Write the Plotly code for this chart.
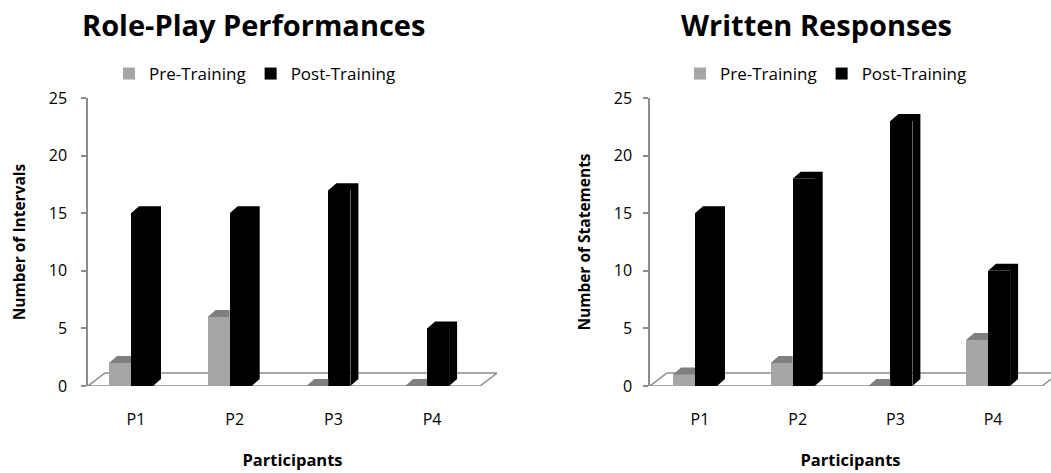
import plotly.graph_objects as go

# ---------------- data ----------------
categories = ["P1", "P2", "P3", "P4"]
series_names = ["Pre-Training", "Post-Training"]
roleplay_pre = [2, 6, 0, 0]
roleplay_post = [15, 15, 17, 5]
written_pre = [1, 2, 0, 4]
written_post = [15, 18, 23, 10]
y_ticks = [0, 5, 10, 15, 20, 25]
titles = ["Role-Play Performances", "Written Responses"]
y_titles = ["Number of Intervals", "Number of Statements"]
x_title = "Participants"

# ---------------- styling / geometry ----------------
W, H = 1051, 473
FONT = "Open Sans"
PRE_FRONT, PRE_TOP = "#a6a6a6", "#7f7f7f"
POST_FRONT, POST_TOP = "#000000", "#000000"
AXIS_GRAY = "#8c8c8c"
Y_TOP_PX, Y_BOT_PX = 98, 386
PX_PER_UNIT_Y = (Y_BOT_PX - Y_TOP_PX) / 25.0

panels = [
    dict(dom=(88, 497), c0=136, s=98.7, floor_end=480, ystand=11, title_x=253, leg_x=255,
         pre=roleplay_pre, post=roleplay_post, legend="legend"),
    dict(dom=(650, 1059), c0=700, s=97.7, floor_end=1042, ystand=8, title_x=816, leg_x=826,
         pre=written_pre, post=written_post, legend="legend2"),
]

fig = go.Figure()
shapes = []
annotations = []
idx = list(range(len(categories)))

for k, p in enumerate(panels):
    s = p["s"]
    c0 = p["c0"]
    d0, d1 = p["dom"]
    xa = "x" if k == 0 else "x2"
    ya = "y" if k == 0 else "y2"
    bw = 22 / s
    pre_off, post_off = -27 / s, -5 / s
    dx, dy = 8 / s, 7 / PX_PER_UNIT_Y
    fdx, fdy = 17 / s, 13 / PX_PER_UNIT_Y

    fig.add_trace(go.Bar(x=idx, y=p["pre"], name=series_names[0], width=bw,
                         offset=pre_off, marker=dict(color=PRE_FRONT, line=dict(width=0)),
                         xaxis=xa, yaxis=ya, legend=p["legend"]))
    fig.add_trace(go.Bar(x=idx, y=p["post"], name=series_names[1], width=bw,
                         offset=post_off, marker=dict(color=POST_FRONT, line=dict(width=0)),
                         xaxis=xa, yaxis=ya, legend=p["legend"]))

    # floor
    fx0 = (d0 - c0) / s
    fx1 = (p["floor_end"] - c0) / s
    shapes.append(dict(type="path", xref=xa, yref=ya, layer="below",
                       path=f"M {fx0},0 L {fx1},0 L {fx1+fdx},{fdy} L {fx0+fdx},{fdy} Z",
                       line=dict(color=AXIS_GRAY, width=1.5)))

    # 3D tops / sides computed from the data
    for i in idx:
        v = p["pre"][i]
        L = i + pre_off
        R = L + bw
        shapes.append(dict(type="path", xref=xa, yref=ya, layer="above",
                           path=f"M {L},{v} L {L+dx},{v+dy} L {R},{v+dy} L {R},{v} Z",
                           fillcolor=PRE_TOP, line=dict(width=0)))
        v = p["post"][i]
        L = i + post_off
        R = L + bw
        shapes.append(dict(type="path", xref=xa, yref=ya, layer="above",
                           path=f"M {L},{v} L {L+dx},{v+dy} L {R+dx},{v+dy} L {R+dx},{dy} L {R},0 L {R},{v} Z",
                           fillcolor=POST_TOP, line=dict(width=0)))

    xr = [(d0 - c0) / s, (d1 - c0) / s]
    xdom = [d0 / W, min(d1 / W, 1.0)]
    if d1 > W:
        xr[1] = (W - c0) / s
    ydom = [1 - Y_BOT_PX / H, 1 - Y_TOP_PX / H]
    sfx = "" if k == 0 else "2"
    fig.update_layout(**{
        f"xaxis{sfx}": dict(
            domain=xdom, range=xr, tickmode="array", tickvals=idx, ticktext=categories,
            showline=False, showgrid=False, zeroline=False, ticks="",
            ticklabelstandoff=22,
            tickfont=dict(family=FONT, size=16, color="#000"),
            title=dict(text=f"<b>{x_title}</b>", font=dict(family=FONT, size=16.5, color="#000"),
                       standoff=25),
            anchor=ya, automargin=False, fixedrange=True),
        f"yaxis{sfx}": dict(
            domain=ydom, range=[0, 25], tickmode="array", tickvals=y_ticks,
            showline=True, linecolor=AXIS_GRAY, linewidth=1.5,
            ticks="outside", ticklen=5, tickcolor=AXIS_GRAY, tickwidth=1.5,
            showgrid=False, zeroline=False, ticklabelstandoff=p["ystand"],
            tickfont=dict(family=FONT, size=16, color="#000"),
            title=dict(text=f"<b>{y_titles[k]}</b>", font=dict(family=FONT, size=15.5, color="#000"),
                       standoff=19),
            anchor=xa, automargin=False, fixedrange=True),
    })

    annotations.append(dict(text=f"<b>{titles[k]}</b>", x=p["title_x"] / W,
                            y=1 - 24 / H, xref="paper", yref="paper", showarrow=False,
                            xanchor="center", yanchor="middle",
                            font=dict(family=FONT, size=29, color="#000")))

leg_common = dict(orientation="h", yanchor="middle", xanchor="center",
                  font=dict(family=FONT, size=17, color="#000"),
                  bgcolor="rgba(0,0,0,0)", itemwidth=30, tracegroupgap=0)
fig.update_layout(
    width=W, height=H,
    margin=dict(l=0, r=0, t=0, b=0),
    paper_bgcolor="white", plot_bgcolor="white",
    barmode="overlay", bargap=0,
    shapes=shapes, annotations=annotations,
    legend=dict(x=panels[0]["leg_x"] / W, y=1 - 74 / H, **leg_common),
    legend2=dict(x=panels[1]["leg_x"] / W, y=1 - 74 / H, **leg_common),
    showlegend=True,
)

fig.write_html("out.html", config={"displayModeBar": False},
               post_script="document.body.style.margin='0';document.body.style.overflow='hidden';")
